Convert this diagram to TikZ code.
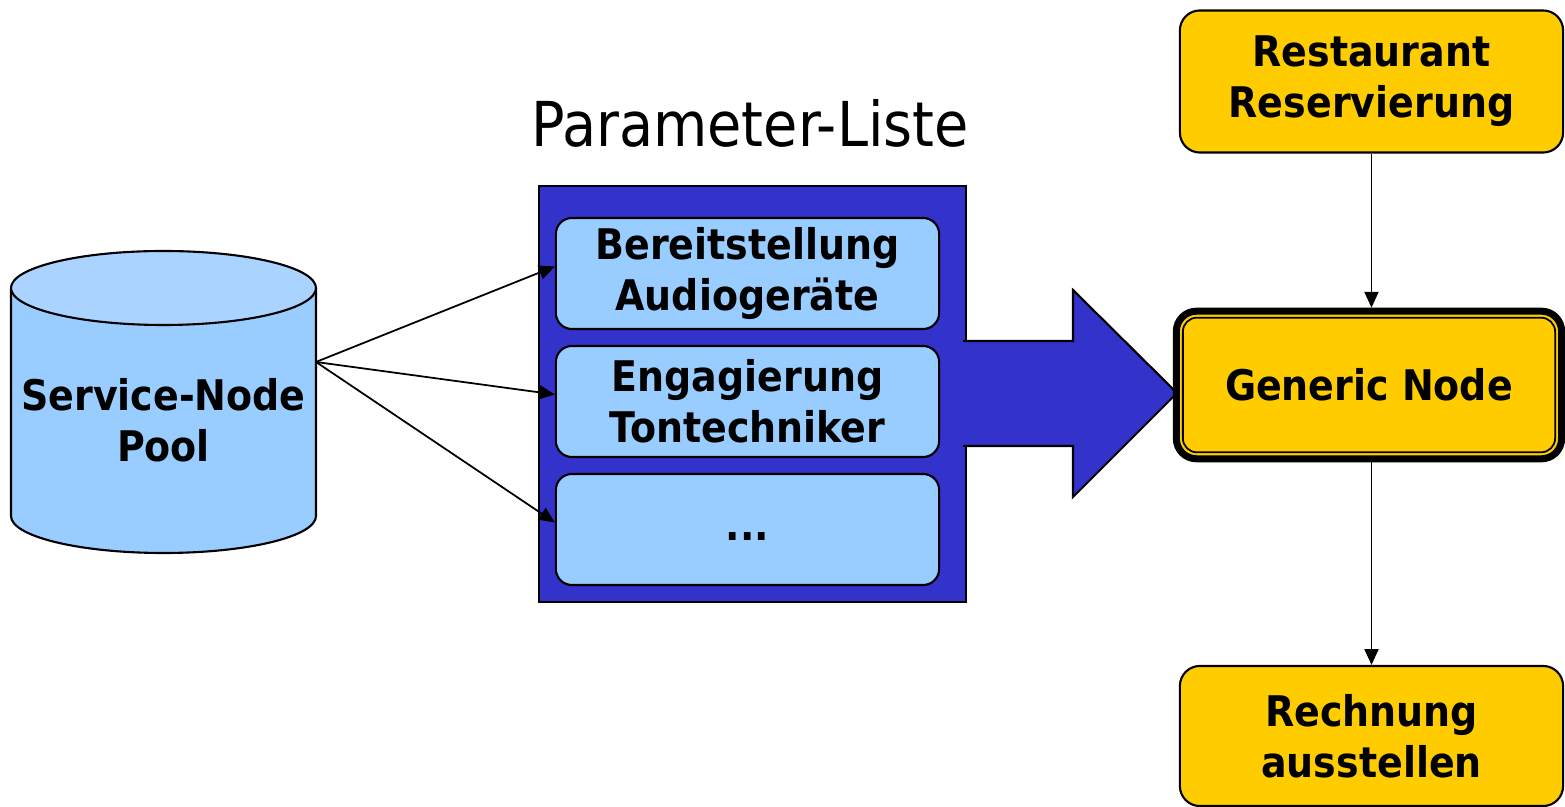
\documentclass[tikz,border=0pt]{standalone}
\usepackage{fontspec}
\setmainfont{DejaVu Sans Condensed}
\usetikzlibrary{arrows.meta}

\definecolor{listblue}{HTML}{3333CC}
\definecolor{itemblue}{HTML}{99CCFF}
\definecolor{poolcap}{HTML}{AAD4FF}
\definecolor{nodeyellow}{HTML}{FFCC00}

\tikzset{
  labeltext/.style={font=\bfseries\fontsize{12}{14.5}\selectfont, align=center},
  itembox/.style={labeltext, draw, line width=0.6pt, fill=itemblue, rounded corners=0.16cm,
    minimum width=3.83cm, minimum height=1.11cm, inner sep=0pt},
  flowbox/.style={labeltext, draw, line width=0.6pt, fill=nodeyellow, rounded corners=0.2cm,
    minimum width=3.83cm, minimum height=1.42cm, inner sep=0pt},
  link/.style={line width=0.5pt, -{Triangle[length=4.5pt,width=4pt]}},
}

\begin{document}
\begin{tikzpicture}[x=0.01cm, y=-0.01cm]
    \useasboundingbox (0,0) rectangle (1565,807);

    % Service-Node pool (cylinder)
    \draw[line width=0.6pt, fill=itemblue] (11,288) -- (11,516)
        arc[start angle=180, end angle=0, x radius=152.5, y radius=37] -- (316,288);
    \draw[line width=0.6pt, fill=poolcap] (163.5,288) ellipse [x radius=152.5, y radius=37];
    \node[labeltext] (pool) at (163.5,420) {Service-Node\\Pool};
    \coordinate (poolout) at (316,362);

    % Parameter list
    \node[font=\fontsize{17.6}{21}\selectfont, anchor=base] (title) at (750,147) {Parameter-Liste};
    \node[draw, line width=0.6pt, fill=listblue, minimum width=4.27cm, minimum height=4.16cm,
        inner sep=0pt] (plist) at (752.5,394) {};
    \draw[line width=0.6pt, fill=listblue] (963,341) -- (1073,341) -- (1073,290) -- (1177,393)
        -- (1073,497) -- (1073,446) -- (963,446);
    \node[itembox] (bereit) at (747.5,273.5) {Bereitstellung\\Audiogeräte};
    \node[itembox] (engag) at (747.5,401.5) {Engagierung\\Tontechniker};
    \node[itembox] (more) at (747.5,529.5) {\vphantom{Ag}...};

    % flow of the generic node
    \node[flowbox] (rest) at (1371.5,81.5) {\raisebox{-1.5pt}{Restaurant}\\\raisebox{-1.5pt}{Reservierung}};
    \node[flowbox, line width=2pt, minimum width=3.85cm, minimum height=1.475cm] (gen) at (1369,385) {Generic Node};
    \draw[line width=0.5pt, rounded corners=0.14cm] ([shift={(10,10)}]gen.north west)
        rectangle ([shift={(-10,-10)}]gen.south east);
    \node[flowbox, minimum height=1.40cm] (rech) at (1371.5,736) {Rechnung\\ausstellen};

    \draw[link] (rest.south) -- (rest.south |- gen.north);
    \draw[link] (rech.north |- gen.south) -- (rech.north);
    \draw[link] (poolout) -- ([yshift=2pt]bereit.west);
    \draw[link] (poolout) -- ([yshift=2pt]engag.west);
    \draw[link] (poolout) -- ([yshift=2pt]more.west);
\end{tikzpicture}
\end{document}
